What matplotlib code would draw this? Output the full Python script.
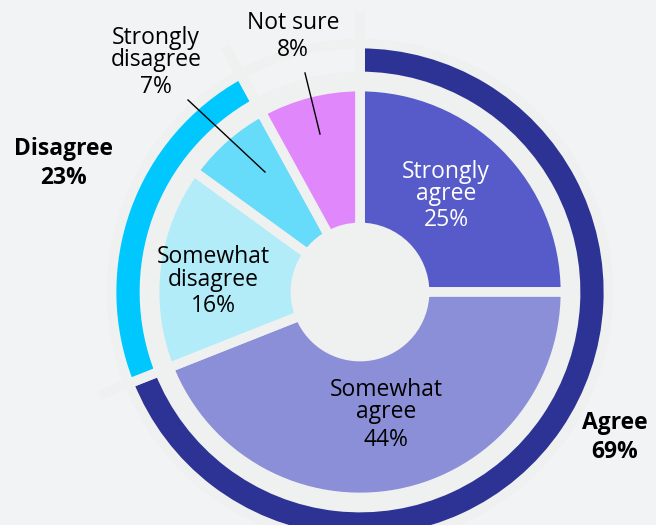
import matplotlib.pyplot as plt
import numpy as np

# inner pie
categories = ["Strongly agree", "Somewhat agree", "Somewhat disagree", "Strongly disagree", "Not sure"]
values = [25, 44, 16, 7, 8]
colors = ["#565bc9", "#8b8fd8", "#b3ecf9", "#66dcfa", "#e088fb"]

# outer ring (8% not sure has no ring)
groups = ["Agree", "Disagree", ""]
group_values = [69, 23, 8]
group_colors = ["#2d3394", "#00c8fe", "none"]

W, H = 656, 525
bg = "#f2f3f5"
gap = "#eff1f1"
cx, cy = 360, H - 292

plt.rcParams['font.family'] = ['Open Sans', 'DejaVu Sans']

fig = plt.figure(figsize=(6.56, 5.25), dpi=100, facecolor=bg)
ax = fig.add_axes([0, 0, 1, 1])
ax.set_facecolor(bg)

# faint light disc behind the pie
ax.add_patch(plt.Circle((cx, cy), 219, color=gap, zorder=0))

# gap strips running out past the ring
bounds = np.cumsum([0] + group_values)
for b in bounds[:3]:
    ang = np.deg2rad(90 - 360 * b / 100)
    ax.plot([cx, cx + 280 * np.cos(ang)], [cy, cy + 280 * np.sin(ang)],
            color=gap, lw=7, zorder=0.5, solid_capstyle='butt')

ax.pie(values, colors=colors, radius=205.5, center=(cx, cy), startangle=90,
       counterclock=False, wedgeprops=dict(width=141, edgecolor=gap, linewidth=7))
ax.pie(group_values, colors=group_colors, radius=248.5, center=(cx, cy), startangle=90,
       counterclock=False, wedgeprops=dict(width=33, edgecolor=gap, linewidth=7))

ax.set_xlim(0, W)
ax.set_ylim(0, H)
ax.set_aspect('equal')
ax.axis('off')

fs = 16.5

def label(x, lines, pct, ys, color='black', weight='normal'):
    for txt, y in zip(lines + [pct], ys):
        ax.text(x, H - y, txt, ha='center', va='center', fontsize=fs,
                color=color, fontweight=weight, zorder=5)

label(446, ["Strongly", "agree"], "25%", [172, 194, 220], color='white')
label(386, ["Somewhat", "agree"], "44%", [390, 412, 440])
label(213, ["Somewhat", "disagree"], "16%", [257, 280, 306])
label(156, ["Strongly", "disagree"], "7%", [38, 60, 87])
label(293, ["Not sure"], "8%", [23, 50])
label(64, ["Disagree"], "23%", [149, 178], weight='bold')
label(615, ["Agree"], "69%", [423, 452], weight='bold')

# leader lines
ax.plot([188, 265], [H - 100, H - 172], color='black', lw=1, zorder=5)
ax.plot([305, 320], [H - 73, H - 134], color='black', lw=1, zorder=5)

fig.savefig("out.png", dpi=100, facecolor=bg)
